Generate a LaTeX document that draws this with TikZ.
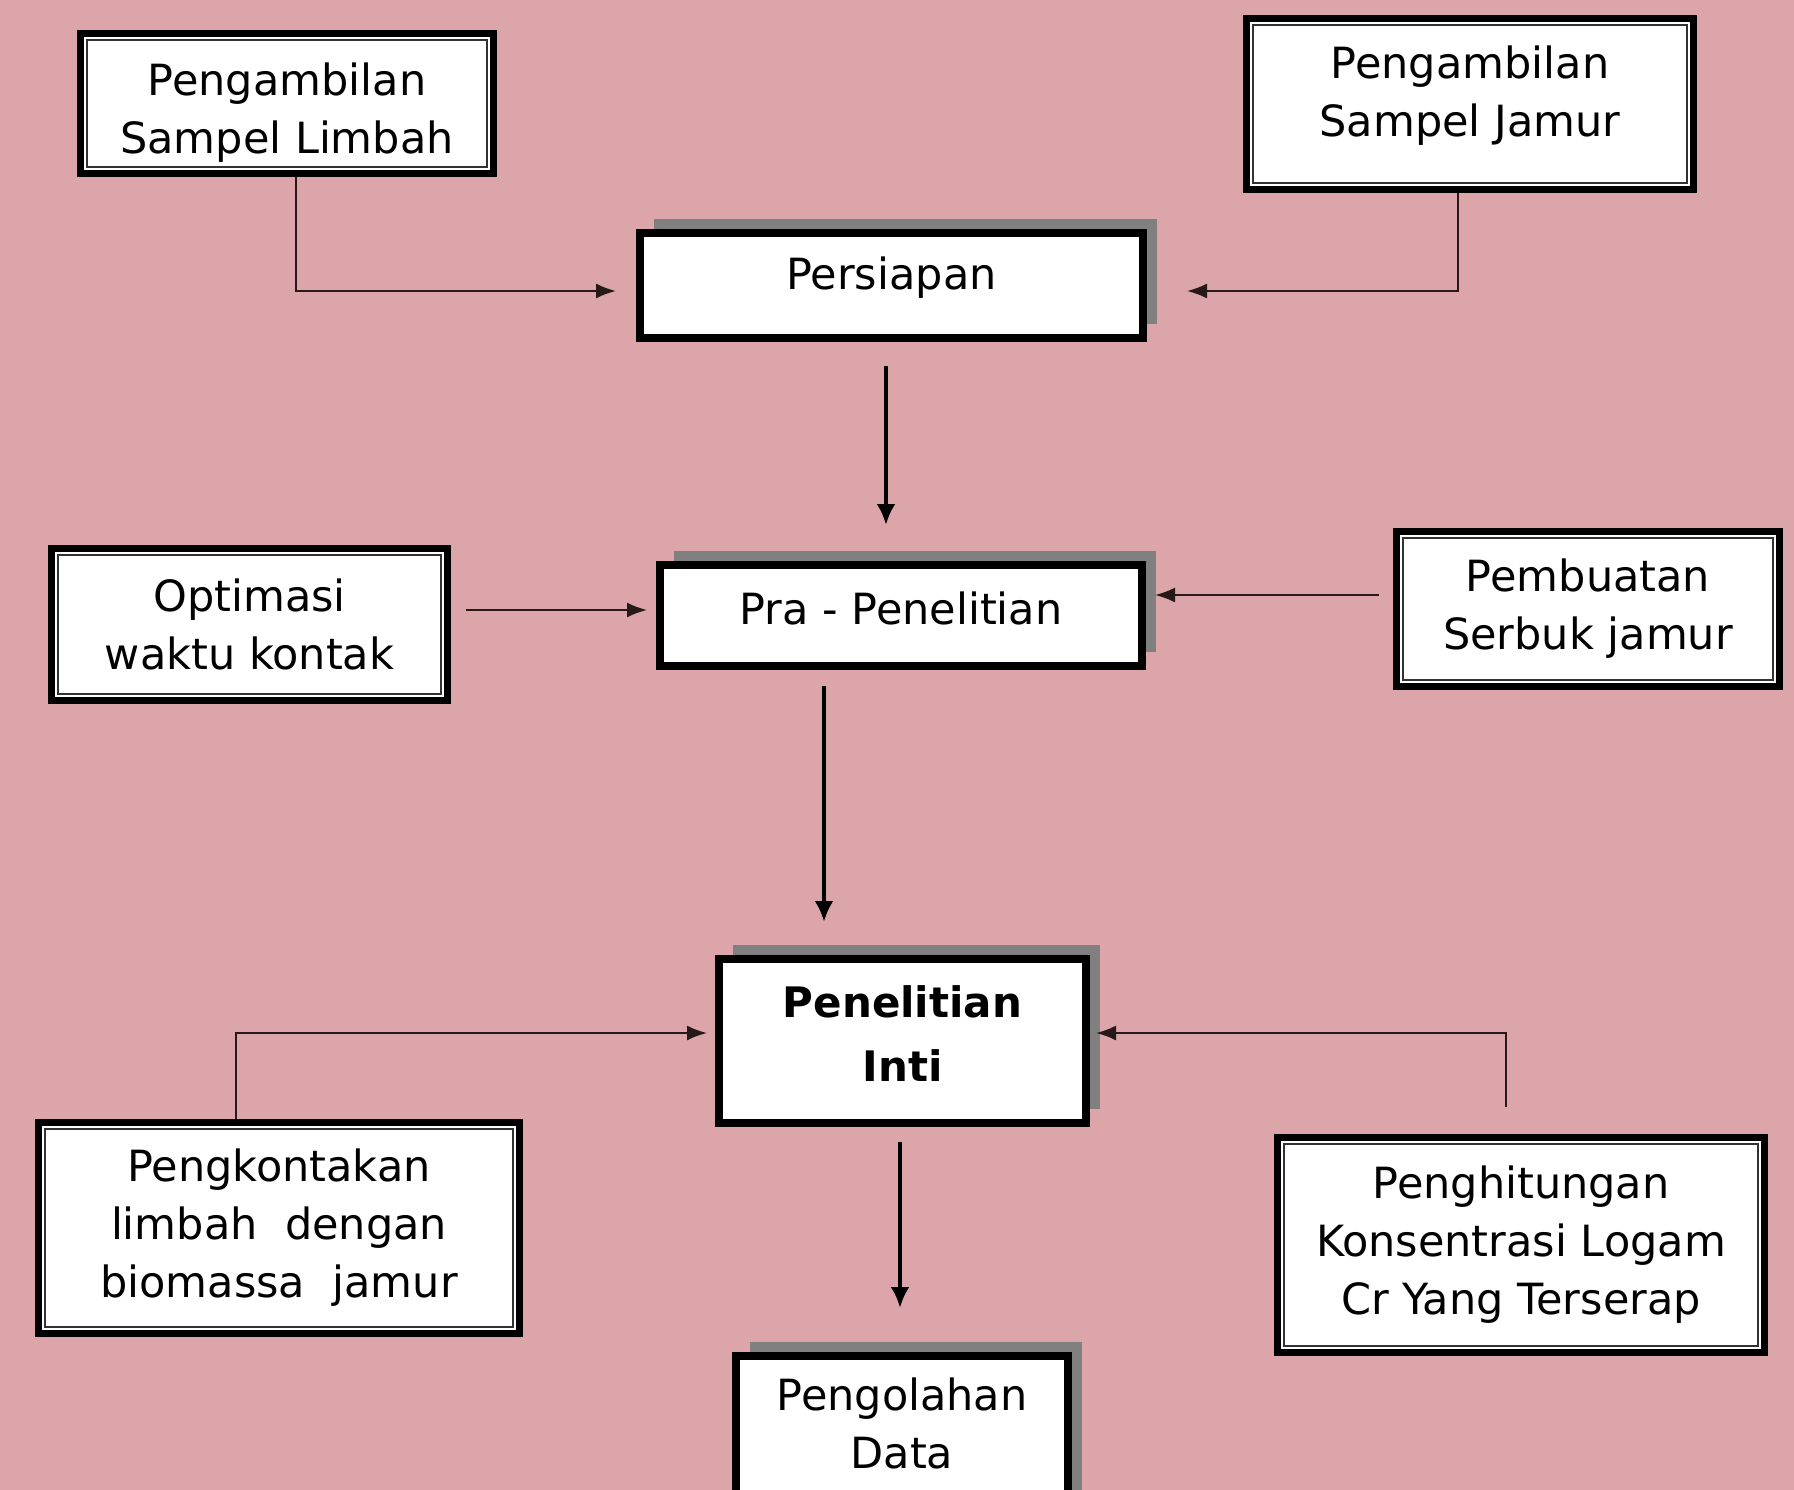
\documentclass[tikz,border=0pt]{standalone}
\usepackage{fontspec}
\setmainfont{DejaVu Sans}
\usetikzlibrary{arrows.meta,shadows}
\definecolor{bgpink}{RGB}{219,165,170}
\definecolor{shadowgray}{RGB}{128,128,128}
\definecolor{linedark}{RGB}{40,25,25}
\tikzset{
  txt/.style={font=\fontsize{43}{58}\selectfont, align=center},
  dbox/.style={txt, draw=black, fill=white, line width=7pt, inner sep=0pt,
    path picture={\draw[line width=2pt, draw=black!80]
      ([shift={(6.5pt,-6.5pt)}]path picture bounding box.north west) rectangle
      ([shift={(-6.5pt,6.5pt)}]path picture bounding box.south east);}},
  sbox/.style={txt, draw=black, fill=white, line width=8pt, inner sep=0pt,
    drop shadow={shadow xshift=14pt, shadow yshift=14pt, fill=shadowgray, opacity=1}},
  conn/.style={draw=linedark, line width=2pt, -{Latex[length=20pt,width=15pt]}},
  bigarrow/.style={draw=black, line width=4.5pt, -{Latex[length=21pt,width=19pt]}}
}
\begin{document}
\begin{tikzpicture}[x=1pt,y=-1pt]
\fill[bgpink] (0,0) rectangle (1794,1490);
\useasboundingbox (0,0) rectangle (1794,1490);
\clip (0,0) rectangle (1794,1490);

\node[dbox, minimum width=413pt, minimum height=140pt, text height=109pt] (limbah) at (287,103.5) {Pengambilan\\Sampel Limbah};
\node[dbox, minimum width=447pt, minimum height=171pt, text depth=26pt] (jamur) at (1470,104) {Pengambilan\\Sampel Jamur};
\node[sbox, minimum width=503pt, minimum height=105pt, text depth=24pt] (persiapan) at (891.5,285.5) {Persiapan};
\node[dbox, minimum width=396pt, minimum height=152pt] (optimasi) at (249.5,624.5) {Optimasi\\waktu kontak};
\node[sbox, minimum width=482pt, minimum height=101pt, text depth=14pt] (pra) at (901,615.5) {Pra - Penelitian};
\node[dbox, minimum width=383pt, minimum height=155pt] (serbuk) at (1588,609) {Pembuatan\\Serbuk jamur};
\node[sbox, minimum width=367pt, minimum height=164pt, font=\bfseries\fontsize{42}{64}\selectfont, text depth=14pt] (inti) at (902.5,1041) {Penelitian\\Inti};
\node[dbox, minimum width=481pt, minimum height=211pt] (kontak) at (279,1228) {Pengkontakan\\limbah\ \ dengan\\biomassa\ \ jamur};
\node[dbox, minimum width=487pt, minimum height=215pt] (hitung) at (1521,1245) {Penghitungan\\Konsentrasi Logam\\Cr Yang Terserap};
\node[sbox, anchor=north, minimum width=332pt, inner ysep=22pt, text depth=200pt] (olah) at (902,1352) {Pengolahan\\Data};

\draw[conn] ([xshift=9pt]limbah.south) |- ([xshift=-20pt,yshift=-5.5pt]persiapan.west);
\draw[conn] ([xshift=-12pt]jamur.south) |- ([xshift=40pt,yshift=-5.5pt]persiapan.east);
\draw[bigarrow] ([xshift=-5.5pt,yshift=-24pt]persiapan.south) -- ([xshift=-15pt,yshift=36pt]pra.north);
\draw[conn] ([xshift=14.5pt,yshift=14.5pt]optimasi.east) -- ([xshift=-9pt,yshift=5.5pt]pra.west);
\draw[conn] ([xshift=-14.5pt,yshift=14pt]serbuk.west) -- ([xshift=9pt,yshift=20.5pt]pra.east);
\draw[bigarrow] ([xshift=-77pt,yshift=-16pt]pra.south) -- ([xshift=-78.5pt,yshift=33pt]inti.north);
\draw[conn] ([xshift=-43pt]kontak.north) |- ([xshift=-8pt,yshift=8pt]inti.west);
\draw[conn] ([xshift=-15pt,yshift=27.5pt]hitung.north) |- ([xshift=6pt,yshift=8pt]inti.east);
\draw[bigarrow] ([xshift=-2.5pt,yshift=-15pt]inti.south) -- ([xshift=-2pt,yshift=44pt]olah.north);
\end{tikzpicture}
\end{document}
